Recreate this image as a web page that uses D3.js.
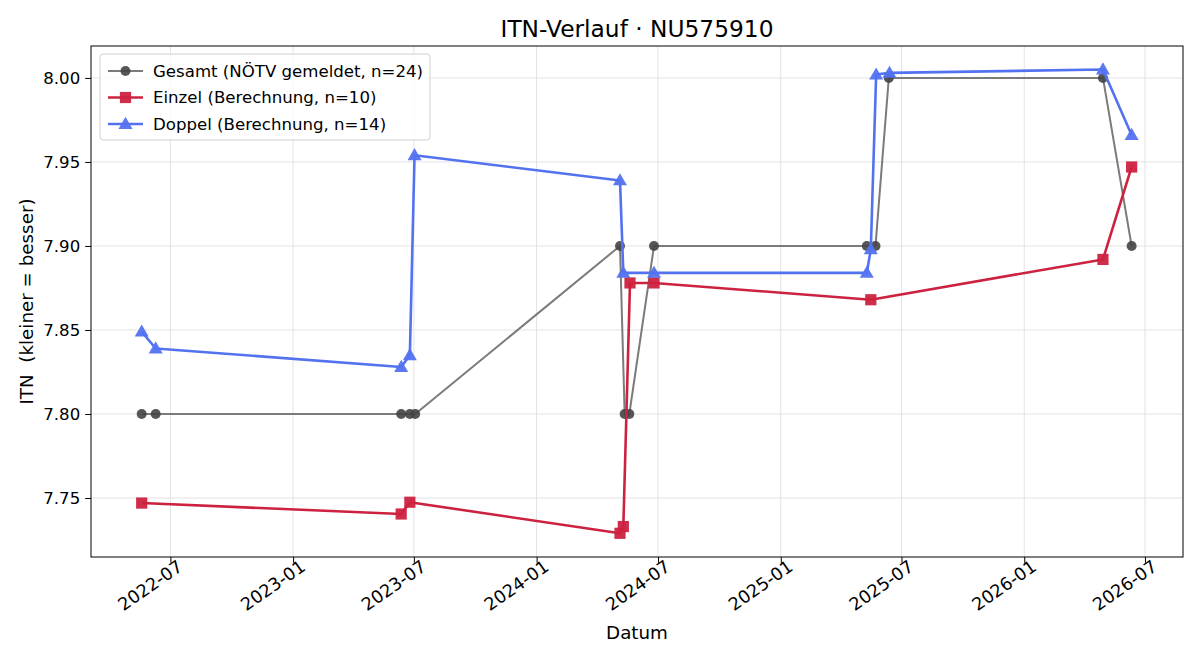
<!DOCTYPE html>
<html>
<head>
<meta charset="utf-8">
<script src="https://cdn.jsdelivr.net/npm/d3@7"></script>
<style>
  body { margin: 0; background: #fff; }
  svg, svg text { font-family: "DejaVu Sans", sans-serif; }
</style>
</head>
<body>
<div id="chart"></div>
<script>
// --- data ---
const gesamtDates = ["2022-05-19", "2022-06-09", "2023-06-12", "2023-06-25", "2023-07-03",
  "2024-05-05", "2024-05-12", "2024-05-19", "2024-06-25", "2025-05-10", "2025-05-23",
  "2025-06-12", "2026-04-29", "2026-06-11"];
const gesamtValues = [7.80, 7.80, 7.80, 7.80, 7.80, 7.90, 7.80, 7.80, 7.90, 7.90, 7.90, 8.00, 8.00, 7.90];

const einzelDates = ["2022-05-19", "2023-06-12", "2023-06-25", "2024-05-05", "2024-05-10",
  "2024-05-20", "2024-06-25", "2025-05-16", "2026-04-29", "2026-06-11"];
const einzelValues = [7.747, 7.7405, 7.7475, 7.729, 7.733, 7.878, 7.878, 7.868, 7.892, 7.947];

const doppelDates = ["2022-05-19", "2022-06-09", "2023-06-12", "2023-06-25", "2023-07-02",
  "2024-05-05", "2024-05-10", "2024-06-25", "2025-05-10", "2025-05-16", "2025-05-24",
  "2025-06-13", "2026-04-29", "2026-06-11"];
const doppelValues = [7.849, 7.839, 7.828, 7.835, 7.954, 7.939, 7.884, 7.884, 7.884, 7.898,
  8.002, 8.003, 8.005, 7.966];

const yTicks = [7.75, 7.80, 7.85, 7.90, 7.95, 8.00];
const xTicks = ["2022-07-01", "2023-01-01", "2023-07-01", "2024-01-01", "2024-07-01",
  "2025-01-01", "2025-07-01", "2026-01-01", "2026-07-01"];

const parse = d3.timeParse("%Y-%m-%d");
const toPoints = (dates, vals) => dates.map((d, i) => ({date: parse(d), value: vals[i]}));

const series = [
  {label: "Gesamt (NÖTV gemeldet, n=24)", pts: toPoints(gesamtDates, gesamtValues),
   line: "#7b7b7b", marker: "#444444", width: 2, shape: "circle"},
  {label: "Einzel (Berechnung, n=10)", pts: toPoints(einzelDates, einzelValues),
   line: "#cc2240", marker: "#cc2240", width: 2.6, shape: "square"},
  {label: "Doppel (Berechnung, n=14)", pts: toPoints(doppelDates, doppelValues),
   line: "#5372f0", marker: "#5372f0", width: 2.6, shape: "triangle"}
];

const W = 1200, H = 660;
const margin = {top: 46, right: 17, bottom: 103, left: 91};
const width = W - margin.left - margin.right;
const height = H - margin.top - margin.bottom;
const fs = "16.6px";
const font = "DejaVu Sans";

const svg = d3.select("#chart").append("svg")
  .attr("width", W)
  .attr("height", H);

const g = svg.append("g").attr("transform", `translate(${margin.left},${margin.top})`);

const x = d3.scaleTime()
  .domain([parse("2022-03-04"), parse("2026-08-27")])
  .range([0, width]);

const y = d3.scaleLinear()
  .domain([7.7149, 8.019])
  .range([height, 0]);

// grid
g.append("g")
  .selectAll("line")
  .data(xTicks.map(parse))
  .enter().append("line")
  .attr("x1", d => x(d)).attr("x2", d => x(d))
  .attr("y1", 0).attr("y2", height)
  .attr("stroke", "#e3e3e3").attr("stroke-width", 1);

g.append("g")
  .selectAll("line")
  .data(yTicks)
  .enter().append("line")
  .attr("y1", d => y(d)).attr("y2", d => y(d))
  .attr("x1", 0).attr("x2", width)
  .attr("stroke", "#e3e3e3").attr("stroke-width", 1);

// axes
const yAxis = g.append("g")
  .call(d3.axisLeft(y).tickValues(yTicks).tickFormat(d3.format(".2f")).tickSize(5.8).tickPadding(5));

const xAxis = g.append("g")
  .attr("transform", `translate(0,${height})`)
  .call(d3.axisBottom(x).tickValues(xTicks.map(parse)).tickFormat(d3.timeFormat("%Y-%m")).tickSize(5.8));

[yAxis, xAxis].forEach(a => {
  a.attr("font-family", font).attr("font-size", null);
  a.selectAll("text").style("font-size", fs).style("font-family", font).attr("fill", "#000");
  a.select(".domain").remove();
  a.selectAll(".tick line").attr("stroke", "#000").attr("stroke-width", 1);
});

// rotated date labels
xAxis.selectAll("text")
  .style("font-size", "17.6px")
  .style("text-anchor", "end")
  .attr("y", 7)
  .attr("dx", "0.2em")
  .attr("dy", "0.6em")
  .attr("transform", "rotate(-35)");

g.append("rect")
  .attr("width", width).attr("height", height)
  .attr("fill", "none").attr("stroke", "#000").attr("stroke-width", 1);

// lines and markers
const line = d3.line().x(d => x(d.date)).y(d => y(d.value));

function drawMarker(sel, s, cx, cy) {
  if (s.shape === "circle") {
    sel.append("circle").attr("cx", cx).attr("cy", cy).attr("r", 5)
      .attr("fill", s.marker).attr("opacity", 0.9);
  } else if (s.shape === "square") {
    sel.append("rect").attr("x", cx - 5.6).attr("y", cy - 5.6)
      .attr("width", 11.2).attr("height", 11.2)
      .attr("fill", s.marker).attr("opacity", 0.95);
  } else {
    sel.append("path")
      .attr("d", d3.symbol().type(d3.symbolTriangle).size(85)())
      .attr("transform", `translate(${cx},${cy + 0.9})`)
      .attr("fill", s.marker).attr("opacity", 0.95);
  }
}

series.forEach(s => {
  g.append("path")
    .datum(s.pts)
    .attr("fill", "none")
    .attr("stroke", s.line)
    .attr("stroke-width", s.width)
    .attr("stroke-linejoin", "round")
    .attr("d", line);
  const mg = g.append("g");
  s.pts.forEach(p => drawMarker(mg, s, x(p.date), y(p.value)));
});

// legend
const lg = g.append("g").attr("transform", "translate(9,8)");
lg.append("rect")
  .attr("width", 330).attr("height", 86).attr("rx", 3)
  .attr("fill", "#fff").attr("fill-opacity", 0.8)
  .attr("stroke", "#d0d0d0").attr("stroke-width", 1);

series.forEach((s, i) => {
  const yy = 17 + i * 26.5;
  lg.append("line")
    .attr("x1", 8).attr("x2", 43).attr("y1", yy).attr("y2", yy)
    .attr("stroke", s.line).attr("stroke-width", s.width);
  drawMarker(lg, s, 25.5, yy);
  lg.append("text")
    .attr("x", 53).attr("y", yy)
    .attr("dy", "0.35em")
    .style("font-size", fs)
    .text(s.label);
});

// title and axis labels
svg.append("text")
  .attr("x", margin.left + width / 2)
  .attr("y", 37)
  .attr("text-anchor", "middle")
  .style("font-size", "23.3px")
  .text("ITN-Verlauf · NU575910");

svg.append("text")
  .attr("x", margin.left + width / 2)
  .attr("y", 639)
  .attr("text-anchor", "middle")
  .style("font-size", "18.3px")
  .text("Datum");

svg.append("text")
  .attr("transform", "rotate(-90)")
  .attr("x", -(margin.top + height / 2))
  .attr("y", 33)
  .attr("text-anchor", "middle")
  .style("font-size", "18.3px")
  .style("white-space", "pre")
  .text("ITN  (kleiner = besser)");
</script>
</body>
</html>
